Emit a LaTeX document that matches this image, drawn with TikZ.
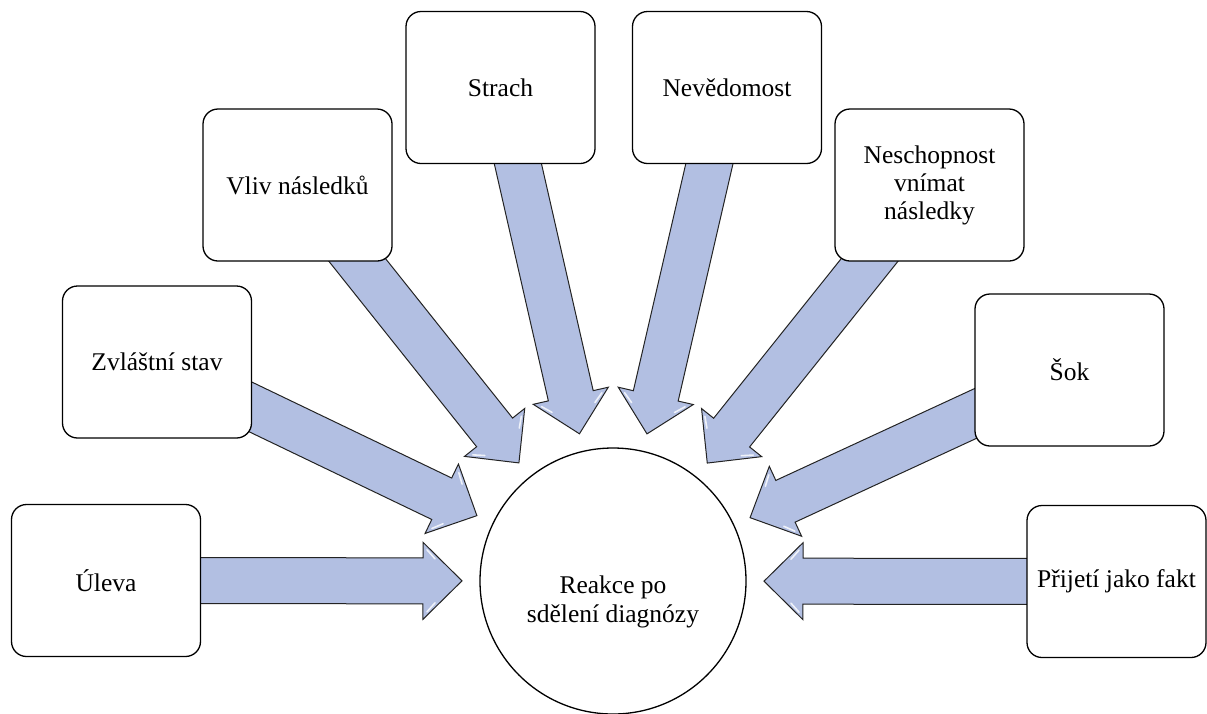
\documentclass[tikz,border=0pt]{standalone}
\usepackage{fontspec}
\setmainfont{Liberation Serif}
\usetikzlibrary{calc}
\definecolor{arrowfill}{RGB}{178,191,226}
\definecolor{arrowline}{RGB}{35,35,35}
\pgfdeclarelayer{bg}
\pgfsetlayers{bg,main}
\tikzset{
  box/.style={draw=black, line width=1.3pt, rounded corners=15pt, fill=white,
    minimum width=189pt, minimum height=152pt, align=center,
    font=\fontsize{25.5}{28}\selectfont, inner sep=0pt},
  hub/.style={circle, draw=black, line width=1.3pt, fill=white,
    minimum size=266pt, inner sep=0pt},
  hubtext/.style={align=center, font=\fontsize{25.5}{29}\selectfont, inner sep=0pt},
  blockarrow/.style={fill=arrowfill, draw=arrowline, line width=1pt, line join=miter},
  gloss/.style={draw=white, line width=1.6pt, line cap=round, opacity=0.8}
}
\newcommand\radarrow[1]{%
  \coordinate (T) at ($(hub.center)!151pt!(#1.center)$);
  \coordinate (H) at ($(T)!39pt!(#1.center)$);
  \filldraw[blockarrow] ($(#1.center)!23pt!90:(T)$) -- ($(H)!23pt!90:(T)$)
    -- ($(H)!38.5pt!90:(T)$) -- (T) -- ($(H)!38.5pt!-90:(T)$)
    -- ($(H)!23pt!-90:(T)$) -- ($(#1.center)!23pt!-90:(T)$) -- cycle;
  \draw[gloss] ($(H)!4pt!(T)!31pt!90:(T)$) -- ($(H)!12pt!(T)!22pt!90:(T)$);
  \draw[gloss] ($(H)!4pt!(T)!31pt!-90:(T)$) -- ($(H)!12pt!(T)!22pt!-90:(T)$);
}
\begin{document}
\begin{tikzpicture}[x=1pt,y=-1pt]
\useasboundingbox (0,0) rectangle (1207,713);
\node[hub] (hub) at (613,581) {};
\node[hubtext] (hubt) at (613,602) {Reakce po\\sdělení diagnózy};
\node[box] (uleva) at (106,580.5) {Úleva};
\node[box] (zvlastni) at (157,362) {Zvláštní stav};
\node[box] (vliv) at (297.5,185) {Vliv následků};
\node[box] (strach) at (500.5,87.5) {Strach};
\node[box] (nevedomost) at (727,87.5) {Nevědomost};
\node[box] (neschopnost) at (929.5,185) {Neschopnost\\vnímat\\následky};
\node[box] (sok) at (1069.5,370) {Šok};
\node[box, minimum width=179pt] (prijeti) at (1116.5,581.5) {Přijetí jako fakt};
\begin{pgfonlayer}{bg}
\radarrow{uleva}
\radarrow{zvlastni}
\radarrow{vliv}
\radarrow{strach}
\radarrow{nevedomost}
\radarrow{neschopnost}
\radarrow{sok}
\radarrow{prijeti}
\end{pgfonlayer}
\end{tikzpicture}
\end{document}
